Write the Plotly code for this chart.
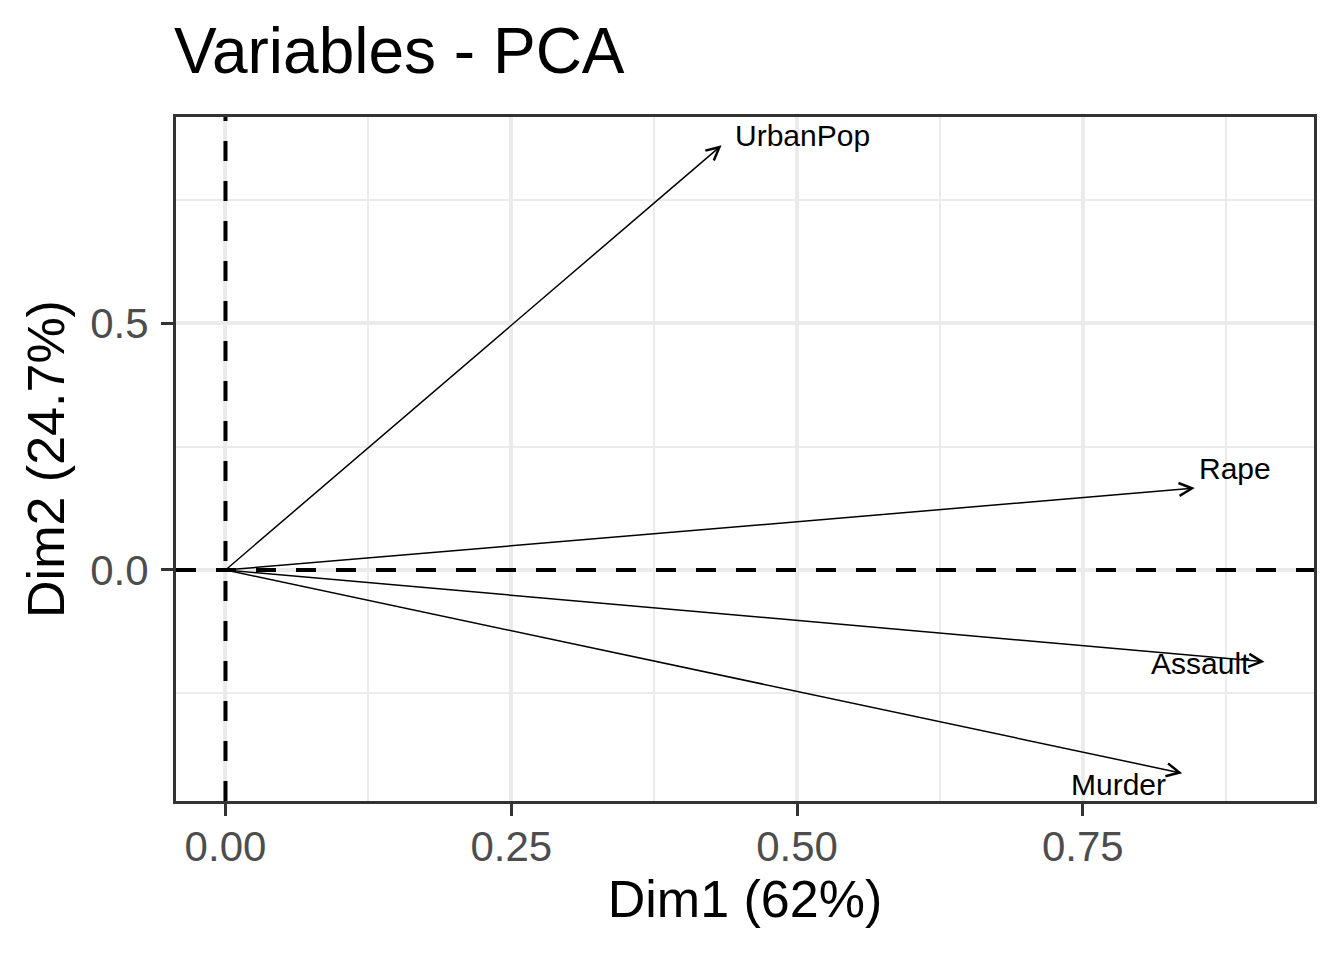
import plotly.graph_objects as go

# Data (PCA variable coordinates)
variables = ["Murder", "Assault", "UrbanPop", "Rape"]
dim1 = [0.837, 0.909, 0.434, 0.848]
dim2 = [-0.412, -0.186, 0.861, 0.166]

x_tickvals = [0.00, 0.25, 0.50, 0.75]
y_tickvals = [0.0, 0.5]
x_range = [-0.0433, 0.9523]
y_range = [-0.4683, 0.9183]

title_text = "Variables - PCA"
x_title = "Dim1 (62%)"
y_title = "Dim2 (24.7%)"

# label placement style: (xanchor, xshift px, yshift px)
label_style = {
    "Murder": ("right", -14, -11),
    "Assault": ("right", -13, -1.5),
    "UrbanPop": ("left", 11, 9.5),
    "Rape": ("left", 2, 20),
}

FONT = "Liberation Sans, Arial, sans-serif"
GRID = "#EBEBEB"
AXC = "#333333"

fig = go.Figure()
# invisible trace to anchor axes
fig.add_trace(go.Scatter(x=dim1, y=dim2, mode="markers",
                         marker=dict(size=1, opacity=0), hoverinfo="skip",
                         showlegend=False))

shapes = [
    # horizontal dashed line at y=0 (drawn from left to right)
    dict(type="line", xref="x domain", yref="y", x0=0, x1=1, y0=0, y1=0,
         line=dict(color="black", width=4, dash="20px,20px"), layer="above"),
    # vertical dashed line at x=0 (drawn from bottom to top)
    dict(type="line", xref="x", yref="y domain", x0=0, x1=0, y0=0, y1=1,
         line=dict(color="black", width=4, dash="20px,20px"), layer="above"),
]

annotations = []
for name, xv, yv in zip(variables, dim1, dim2):
    annotations.append(dict(
        x=xv, y=yv, xref="x", yref="y", ax=0, ay=0, axref="x", ayref="y",
        text="", showarrow=True, arrowhead=5, arrowsize=1.7, arrowwidth=1.5,
        arrowcolor="black"))
for name, xv, yv in zip(variables, dim1, dim2):
    xa, xs, ys = label_style[name]
    annotations.append(dict(
        x=xv, y=yv, xref="x", yref="y", text=name, showarrow=False,
        xanchor=xa, yanchor="middle", xshift=xs, yshift=ys,
        font=dict(family=FONT, size=30, color="black")))

fig.update_layout(
    width=1336, height=952,
    paper_bgcolor="white", plot_bgcolor="white",
    margin=dict(l=168, r=30, t=109, b=159),
    title=dict(text=title_text, x=0, xref="paper", xanchor="left",
               y=1 - 43 / 952, yref="container", yanchor="middle",
               pad=dict(l=-2),
               font=dict(family=FONT, size=64, color="black")),
    shapes=shapes,
    annotations=annotations,
    showlegend=False,
)

fig.update_xaxes(
    range=x_range, tickmode="array", tickvals=x_tickvals, tickformat=".2f",
    showgrid=True, gridcolor=GRID, gridwidth=3.5, zeroline=False,
    minor=dict(tickmode="array", tickvals=[0.125, 0.375, 0.625, 0.875],
               showgrid=True, gridcolor=GRID, gridwidth=1.8, ticks=""),
    showline=True, mirror=True, linecolor=AXC, linewidth=3,
    ticks="outside", ticklen=12, tickwidth=3, tickcolor=AXC,
    ticklabelstandoff=-5,
    tickfont=dict(family=FONT, size=42, color="#4D4D4D"),
    title=dict(text=x_title, font=dict(family=FONT, size=52, color="black"),
               standoff=11),
    automargin=False,
)
fig.update_yaxes(
    range=y_range, tickmode="array", tickvals=y_tickvals, tickformat=".1f",
    showgrid=True, gridcolor=GRID, gridwidth=3.5, zeroline=False,
    minor=dict(tickmode="array", tickvals=[-0.25, 0.25, 0.75],
               showgrid=True, gridcolor=GRID, gridwidth=1.8, ticks=""),
    showline=True, mirror=True, linecolor=AXC, linewidth=3,
    ticks="outside", ticklen=12, tickwidth=3, tickcolor=AXC,
    ticklabelstandoff=4,
    tickfont=dict(family=FONT, size=42, color="#4D4D4D"),
    title=dict(text=y_title, font=dict(family=FONT, size=52, color="black"),
               standoff=10),
    automargin=False,
)

fig.write_html("out.html")
